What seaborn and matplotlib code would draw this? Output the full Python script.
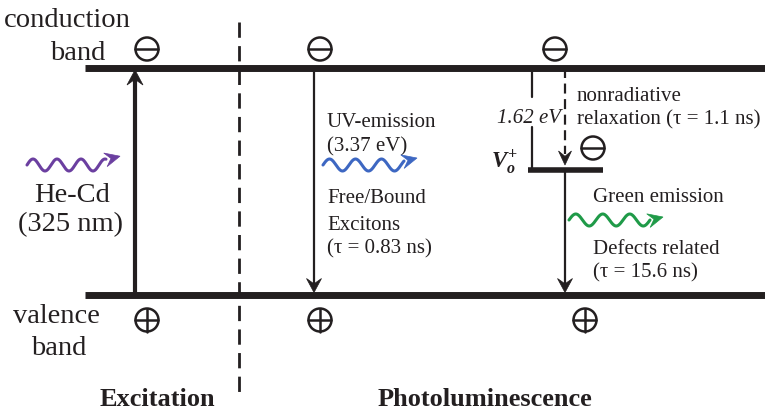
import numpy as np
import pandas as pd
import matplotlib.pyplot as plt
import seaborn as sns
from matplotlib.patches import Circle, Polygon

# ==========================================
# Diagram content
# ==========================================
band_labels = [["conduction", "band"], ["valence", "band"]]
section_labels = ["Excitation", "Photoluminescence"]
laser_label = ["He-Cd", "(325 nm)"]
uv_label = ["UV-emission", "(3.37 eV)"]
uv_desc = ["Free/Bound", "Excitons", "(τ = 0.83 ns)"]
green_label = ["Green emission"]
green_desc = ["Defects related", "(τ = 15.6 ns)"]
nonrad_label = ["nonradiative", "relaxation (τ = 1.1 ns)"]
gap_label = "1.62 eV"
defect_label = r"$V_{o}^{+}$"

# layout (pixel coordinates, y measured from top)
y_cb, y_vb, y_vo = 68, 294.5, 169.5
x_exc, x_uv, x_gap, x_nonrad = 135, 314, 532, 565
x_div = 239.5

ink = "#231f20"
wave_colors = {"purple": "#6b3fa0", "blue": "#3d67c2", "green": "#1f9a48"}

sns.set_theme(style="white")
plt.rcParams["font.family"] = ["Liberation Serif", "DejaVu Serif"]
plt.rcParams["mathtext.fontset"] = "custom"
plt.rcParams["mathtext.it"] = "Liberation Serif:italic:bold"
plt.rcParams["mathtext.rm"] = "Liberation Serif:bold"

fig = plt.figure(figsize=(7.65, 4.12), dpi=100)
ax = fig.add_axes([0, 0, 1, 1])
ax.set_xlim(0, 765)
ax.set_ylim(412, 0)
ax.axis("off")

# ---- bands ----
ax.hlines([y_cb, y_vb], 85, 765, color=ink, lw=5)
ax.hlines(y_vo, 528, 603, color=ink, lw=4)

# ---- divider ----
ax.plot([x_div, x_div], [22, 398], color=ink, lw=2, linestyle=(0, (5.5, 3)))


def head(x, y, dx, dy, color=ink, length=14, width=15):
    # notched ("stealth") arrow head with its tip at (x, y)
    d = np.array([dx, dy], float)
    d /= np.hypot(*d)
    n = np.array([-d[1], d[0]])
    tip = np.array([x, y])
    pts = [tip,
           tip - length * d + width / 2 * n,
           tip - 0.62 * length * d,
           tip - length * d - width / 2 * n]
    ax.add_patch(Polygon(pts, closed=True, fc=color, ec=color, lw=0.5, zorder=4))


def arrow(x0, y0, x1, y1, lw, color=ink, length=14, width=15):
    d = np.array([x1 - x0, y1 - y0], float)
    d /= np.hypot(*d)
    ex, ey = np.array([x1, y1]) - 0.6 * length * d
    ax.plot([x0, ex], [y0, ey], color=color, lw=lw)
    head(x1, y1, *d, color=color, length=length, width=width)


# excitation & emission
arrow(x_exc, y_vb, x_exc, y_cb + 2, 3, length=15, width=16)
arrow(x_uv, y_cb, x_uv, y_vb - 2, 1.6)
arrow(x_nonrad, y_vo, x_nonrad, y_vb - 2, 1.6)
# 1.62 eV gap line with room for the label
ax.plot([x_gap, x_gap], [y_cb, 97], color=ink, lw=1.6)
ax.plot([x_gap, x_gap], [127, y_vo], color=ink, lw=1.6)
# nonradiative dashed arrow
ax.plot([x_nonrad, x_nonrad], [y_cb, 154], color=ink, lw=1.6, linestyle=(0, (4.5, 2.5)))
head(x_nonrad, 165, 0, 1, length=14, width=13)


# ---- wavy photons ----
def wave(x0, x1, yc, period, color, tip):
    xs = np.linspace(x0, x1, 200)
    ys = yc - 6 * np.sin(2 * np.pi * (xs - x0) / period)
    df = pd.DataFrame({"x": xs, "y": ys})
    sns.lineplot(data=df, x="x", y="y", ax=ax, color=color, lw=2.2,
                 estimator=None, sort=False)
    head(tip, ys[-1] - 3, 1, -0.25, color=color, length=15, width=14)


wave(27, 106, 165, 24, wave_colors["purple"], 120)
wave(323, 404, 165, 26, wave_colors["blue"], 417)
wave(569, 650, 220, 27, wave_colors["green"], 663)
ax.set_xlabel("")
ax.set_ylabel("")


# ---- electrons / holes ----
def charge(x, y, plus):
    ax.add_patch(Circle((x, y), 11.5, fill=False, ec=ink, lw=1.8))
    ax.plot([x - 11.5, x + 11.5], [y, y], color=ink, lw=1.8)
    if plus:
        ax.plot([x, x], [y - 11.5, y + 11.5], color=ink, lw=1.8)


for cx in [147, 320, 555]:
    charge(cx, 49, False)
for cx in [147, 320, 585]:
    charge(cx, 320, True)
charge(593, 148, False)


# ---- text ----
def txt(x, y, s, size=15, **kw):
    ax.text(x, y, s, fontsize=size, color=ink, va="baseline", **kw)


txt(4, 27, band_labels[0][0], 20.5)
txt(50, 60, band_labels[0][1], 20.5)
txt(13, 323, band_labels[1][0], 20.5)
txt(31, 355, band_labels[1][1], 20.5)
txt(72, 202, laser_label[0], 20.5, ha="center")
txt(71, 231, laser_label[1], 20.5, ha="center")
txt(100, 406, section_labels[0], 19, fontweight="bold")
txt(378, 406, section_labels[1], 19, fontweight="bold")

for s, yb in zip(uv_label, [127, 151]):
    txt(327, yb, s)
for s, yb in zip(uv_desc, [203, 230, 253]):
    txt(327, yb, s)
for s, yb in zip(nonrad_label, [101, 124]):
    txt(577, yb, s)
txt(593, 202, green_label[0])
for s, yb in zip(green_desc, [254, 277]):
    txt(593, yb, s)
txt(497, 123, gap_label, style="italic")
txt(491, 169, defect_label, 16.5)

plt.savefig("out.png", dpi=100)
